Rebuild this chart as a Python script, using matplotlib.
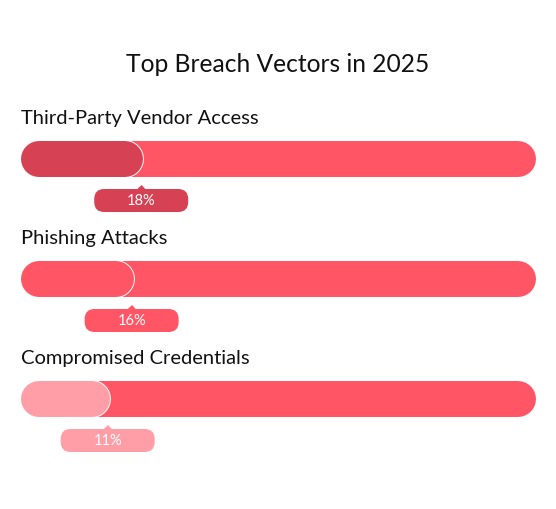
import matplotlib
matplotlib.use("Agg")
import matplotlib.pyplot as plt
from matplotlib.patches import FancyBboxPatch, Polygon
from matplotlib.transforms import Affine2D, ScaledTranslation

categories = ["Third-Party Vendor Access", "Phishing Attacks", "Compromised Credentials"]
values = [18, 16, 11]
fill_colors = ["#D64253", "#FF5564", "#FF9EA6"]
track_color = "#FF5564"
title = "Top Breach Vectors in 2025"

plt.rcParams['font.family'] = ['Lato', 'DejaVu Sans']

W, H = 556, 509
fig = plt.figure(figsize=(W / 100, H / 100), dpi=100)
ax = fig.add_axes([0, 0, 1, 1])
ax.set_axis_off()

# scale: 0% -> px 39, 100% -> px 518
px_per_unit = 4.79
x0 = -39 / px_per_unit
ax.set_xlim(x0, x0 + W / px_per_unit)
row_px = 120
first_px = 159
ax.set_ylim((H - first_px) / row_px, -first_px / row_px)

bar_h = 36  # px
lw = bar_h * 0.72

fig.text(0.5, 1 - 72 / H, title, ha='center', va='baseline', fontsize=17.7, color='#111111')

for i, (cat, v, c) in enumerate(zip(categories, values, fill_colors)):
    ax.plot([0, 100], [i, i], lw=lw, color=track_color, solid_capstyle='round', zorder=1)
    ax.plot([0, v], [i, i], lw=lw + 1.4, color='white', solid_capstyle='round', zorder=2)
    ax.plot([0, v], [i, i], lw=lw, color=c, solid_capstyle='round', zorder=3)
    ax.annotate(cat, xy=(0, i), xytext=(-18 * 0.72, 35 * 0.72), textcoords='offset points',
                ha='left', va='baseline', fontsize=14.5, color='#111111')
    tr = Affine2D().scale(fig.dpi / 100) + ScaledTranslation(v, i, ax.transData)
    cx, cy = 16, -41.5
    pill = FancyBboxPatch((cx - 47, cy - 11.5), 94, 23,
                          boxstyle="round,pad=0,rounding_size=10",
                          facecolor=c, edgecolor='none', transform=tr, zorder=4)
    ax.add_patch(pill)
    tri = Polygon([(cx - 4.5, cy + 11), (cx + 4.5, cy + 11), (cx + 0.5, cy + 15.5)],
                  closed=True, facecolor=c, edgecolor='none', transform=tr, zorder=4)
    ax.add_patch(tri)
    ax.annotate(f"{v}%", xy=(v, i), xytext=(cx * 0.72, (cy - 0.5) * 0.72), textcoords='offset points',
                ha='center', va='center', fontsize=10.5, color='white', zorder=5)

fig.savefig("out.png", dpi=100, facecolor='white')
